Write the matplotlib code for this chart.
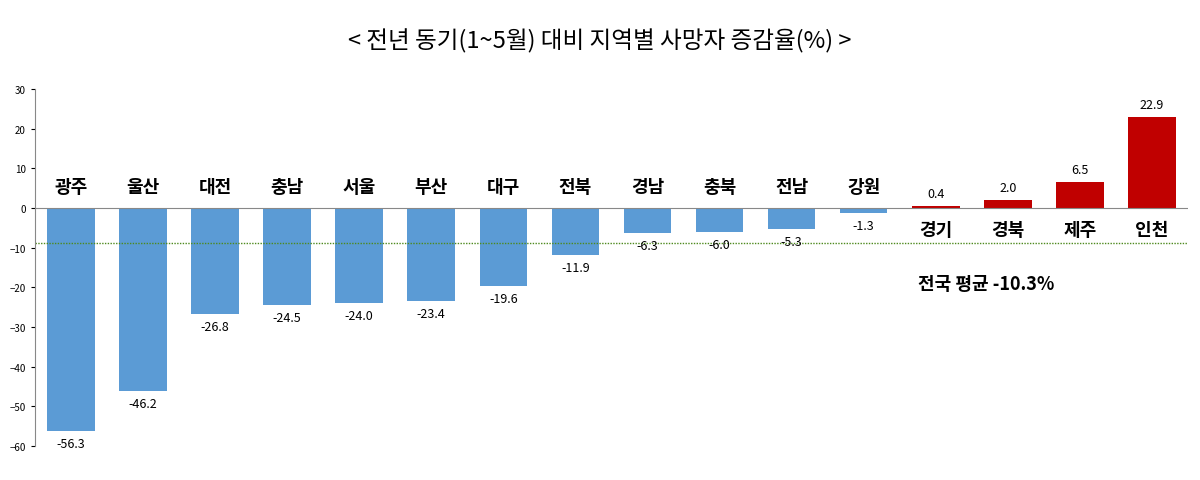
import matplotlib
matplotlib.use('Agg')
import matplotlib.pyplot as plt

plt.rcParams['font.family'] = ['Noto Sans CJK KR', 'DejaVu Sans']

# 지역별 사망자 증감율 (%)
regions = ['광주', '울산', '대전', '충남', '서울', '부산', '대구', '전북',
           '경남', '충북', '전남', '강원', '경기', '경북', '제주', '인천']
values = [-56.3, -46.2, -26.8, -24.5, -24.0, -23.4, -19.6, -11.9,
          -6.3, -6.0, -5.3, -1.3, 0.4, 2.0, 6.5, 22.9]
avg = -10.3

fig = plt.figure(figsize=(12, 4.81), dpi=100)
ax = fig.add_axes([0.029, 0.071, 0.961, 0.742])

x = range(len(values))
colors = ['#5B9BD5' if v < 0 else '#C00000' for v in values]
ax.bar(x, values, width=0.66, color=colors)

for i, v in enumerate(values):
    if v < 0:
        ax.text(i, v - 1.5, f'{v:.1f}', ha='center', va='top', fontsize=9)
        ax.text(i, 5.5, regions[i], ha='center', va='center', fontsize=13, fontweight='bold')
    else:
        ax.text(i, v + 1.5, f'{v:.1f}', ha='center', va='bottom', fontsize=9)
        ax.text(i, -5.5, regions[i], ha='center', va='center', fontsize=13, fontweight='bold')

ax.axhline(avg + 1.5, color='#4E8A1E', linestyle=(0, (1, 1)), linewidth=1)
ax.text(12.7, -19, f'전국 평균 {avg}%', ha='center', va='center', fontsize=13, fontweight='bold')

ax.set_xlim(-0.5, 15.5)
ax.set_ylim(-60, 30)
ax.set_yticks(range(-60, 31, 10))
ax.tick_params(axis='y', labelsize=7, length=3)
ax.set_xticks([])
for s in ['top', 'right', 'bottom']:
    ax.spines[s].set_visible(False)
ax.spines['left'].set_color('#888888')
ax.axhline(0, color='#888888', linewidth=0.8)

fig.text(0.5, 0.915, '< 전년 동기(1~5월) 대비 지역별 사망자 증감율(%) >',
         ha='center', va='center', fontsize=17)

fig.savefig('out.png', dpi=100)
